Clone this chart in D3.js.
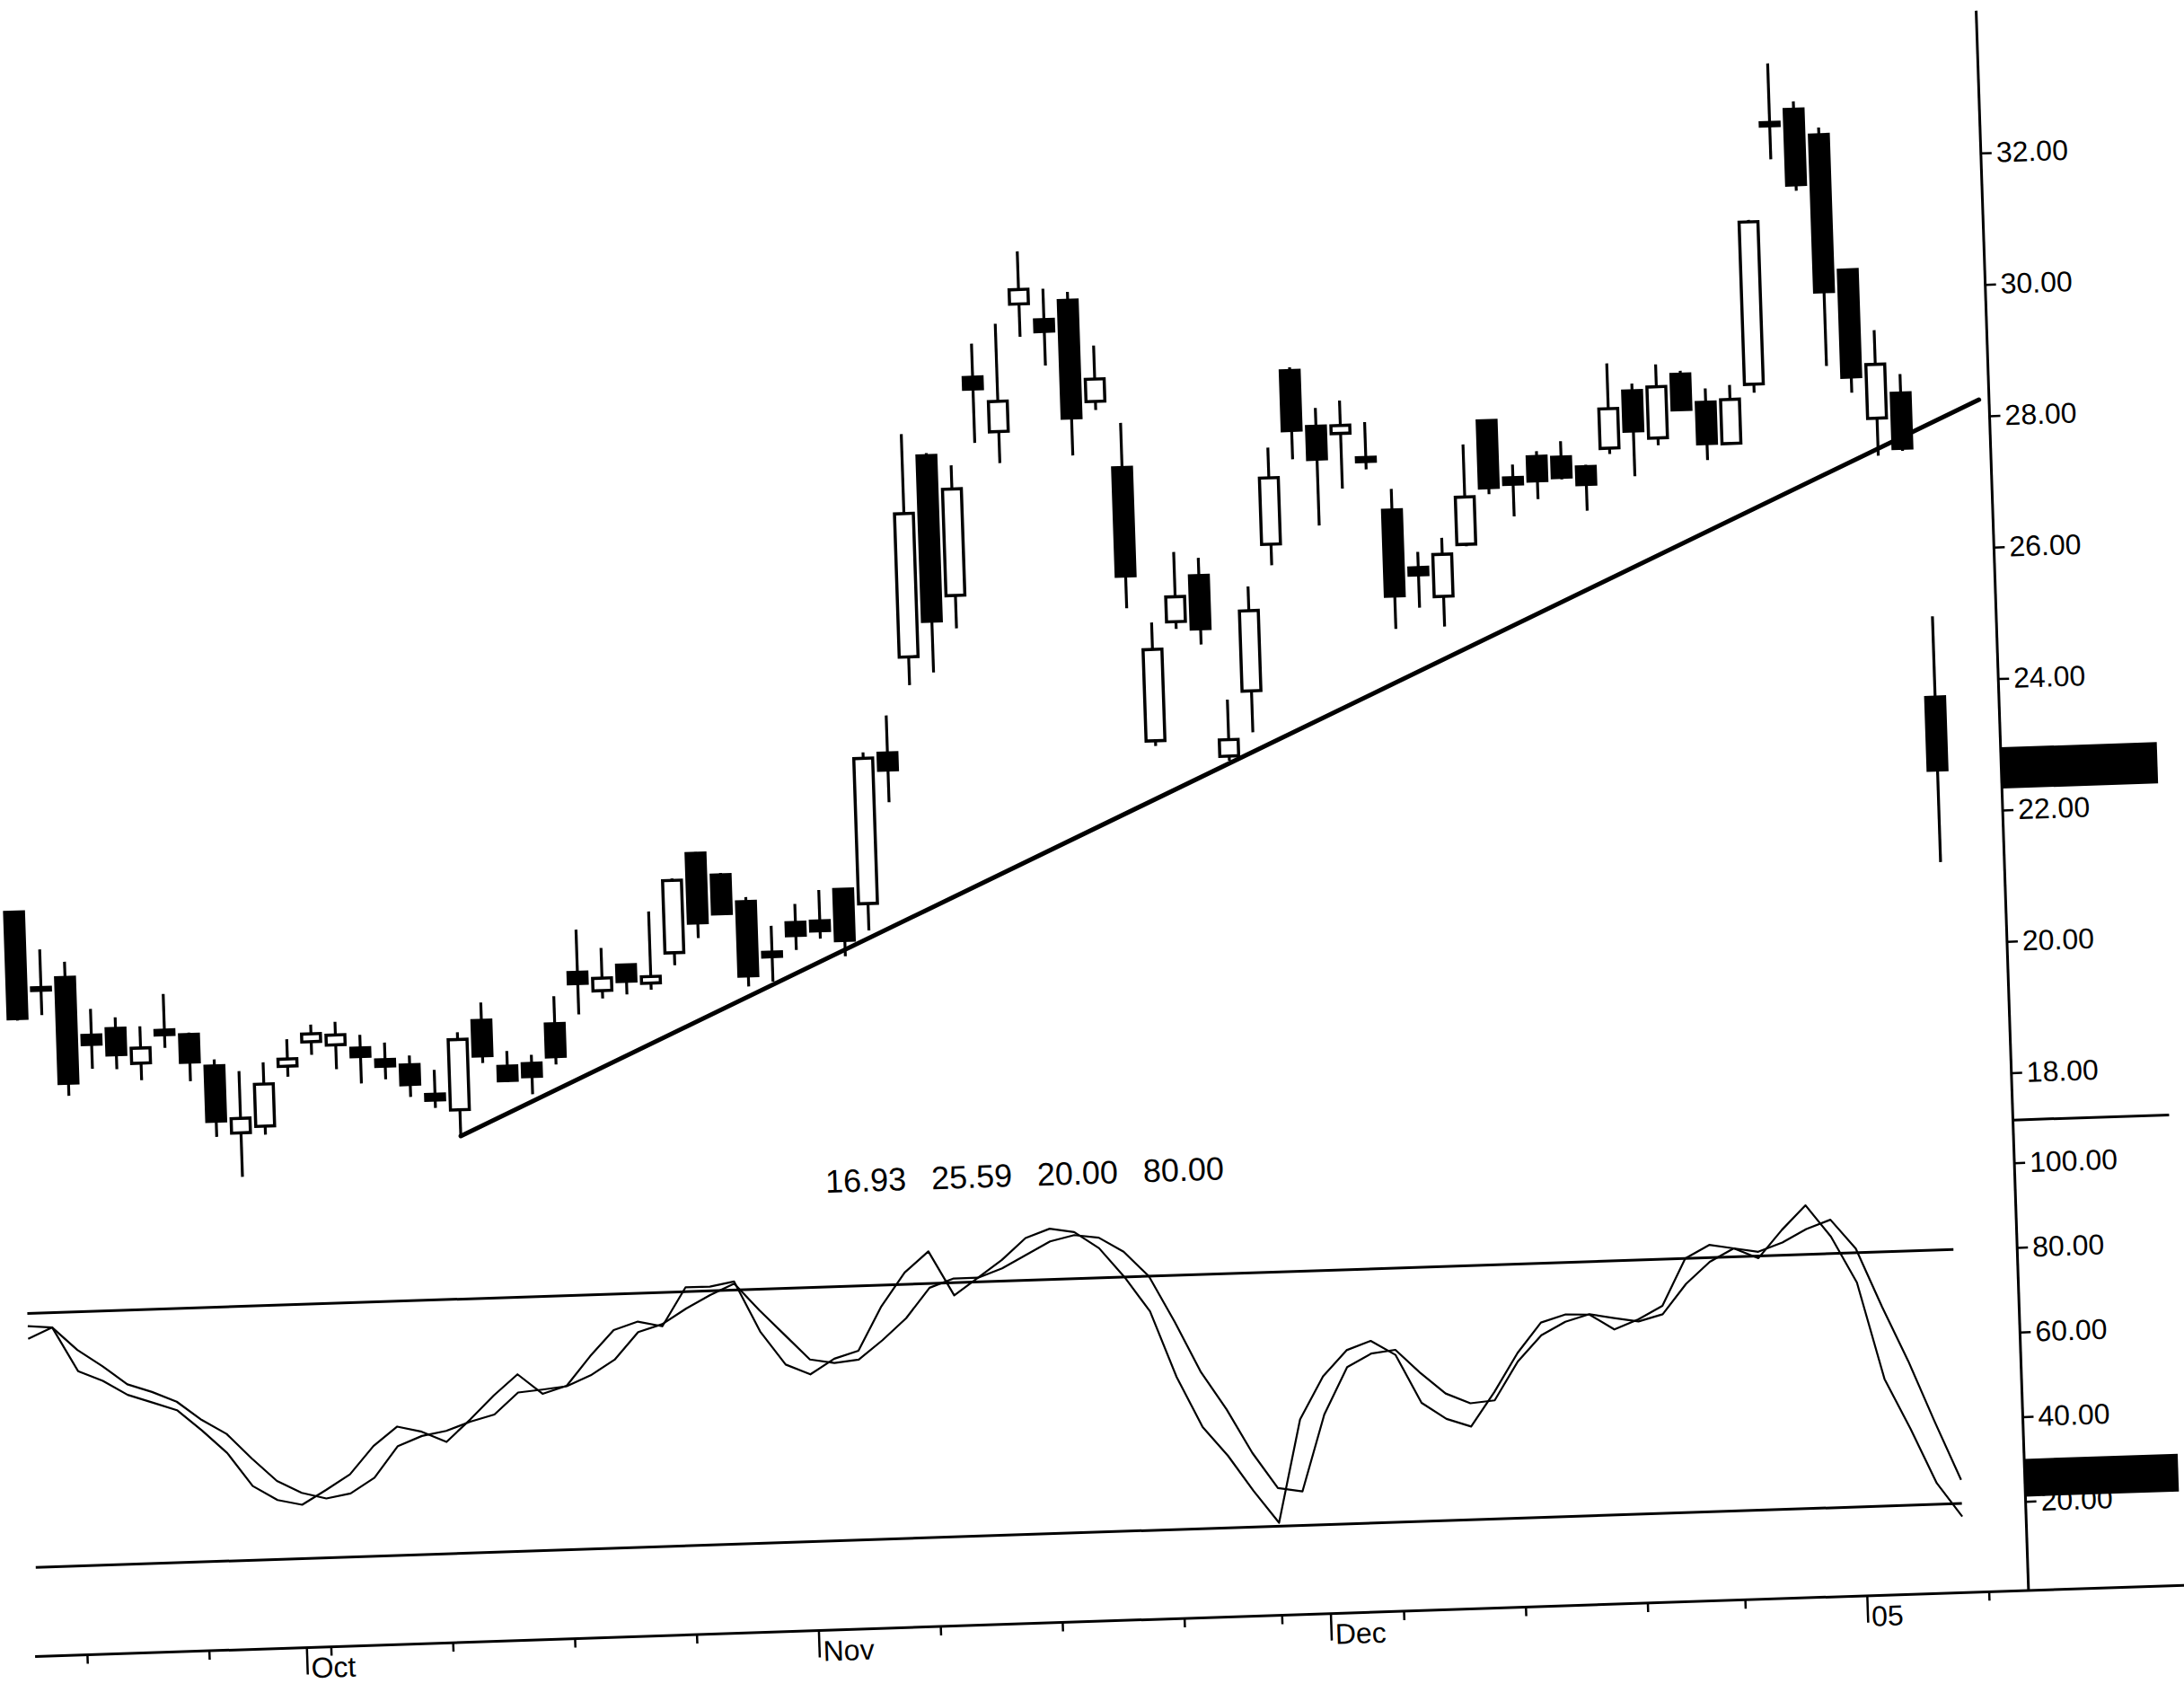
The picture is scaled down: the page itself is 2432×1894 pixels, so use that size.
<!DOCTYPE html>
<html>
<head>
<meta charset="utf-8">
<script src="https://cdn.jsdelivr.net/npm/d3@7"></script>
<style>
  html, body { margin: 0; padding: 0; background: #ffffff; }
  #chart svg { display: block; }
  text { font-family: 'Liberation Sans', Arial, sans-serif; fill: #000; }
</style>
</head>
<body>
<div id="chart"></div>
<script>
// trading sessions shown (Sep 16 2004 .. Jan 7 2005)
const dates = [
  '2004-09-16', '2004-09-17', '2004-09-20', '2004-09-21', '2004-09-22', '2004-09-23', '2004-09-24', '2004-09-27', '2004-09-28', '2004-09-29', '2004-09-30',
  '2004-10-01', '2004-10-04', '2004-10-05', '2004-10-06', '2004-10-07', '2004-10-08', '2004-10-11', '2004-10-12', '2004-10-13', '2004-10-14', '2004-10-15',
  '2004-10-18', '2004-10-19', '2004-10-20', '2004-10-21', '2004-10-22', '2004-10-25', '2004-10-26', '2004-10-27', '2004-10-28', '2004-10-29',
  '2004-11-01', '2004-11-02', '2004-11-03', '2004-11-04', '2004-11-05', '2004-11-08', '2004-11-09', '2004-11-10', '2004-11-11', '2004-11-12',
  '2004-11-15', '2004-11-16', '2004-11-17', '2004-11-18', '2004-11-19', '2004-11-22', '2004-11-23', '2004-11-24', '2004-11-26', '2004-11-29', '2004-11-30',
  '2004-12-01', '2004-12-02', '2004-12-03', '2004-12-06', '2004-12-07', '2004-12-08', '2004-12-09', '2004-12-10', '2004-12-13', '2004-12-14',
  '2004-12-15', '2004-12-16', '2004-12-17', '2004-12-20', '2004-12-21', '2004-12-22', '2004-12-23', '2004-12-27', '2004-12-28', '2004-12-29',
  '2004-12-30', '2004-12-31', '2005-01-03', '2005-01-04', '2005-01-05', '2005-01-06', '2005-01-07'
]
// the date axis runs one session past the last bar
const axisExtraDates = ['2005-01-10']

const open = [
  21.45, 20.29, 20.43, 19.54, 19.63, 19.09, 19.58, 19.50, 19.01, 17.98,
  18.07, 18.97, 19.33, 19.27, 19.21, 19.02, 18.93, 18.47, 18.22, 19.57,
  18.86, 18.89, 19.48, 20.25, 19.96, 20.34, 20.05, 20.50, 22.00, 21.66,
  21.24, 20.46, 20.90, 20.91, 21.38, 21.15, 23.43, 24.88, 27.93, 25.79,
  29.10, 28.26, 30.19, 29.94, 30.22, 28.67, 27.65, 23.48, 25.28, 25.97,
  23.21, 24.19, 26.41, 29.04, 28.18, 28.06, 27.68, 26.87, 25.98, 25.53,
  26.31, 28.18, 27.30, 27.61, 27.59, 27.43, 27.70, 28.56, 27.83, 28.79,
  28.35, 27.71, 28.60, 32.57, 32.76, 32.36, 30.29, 28.02, 28.39, 23.75
]
const high = [
  21.47, 20.87, 20.67, 19.94, 19.80, 19.65, 20.13, 19.53, 19.11, 18.92,
  19.04, 19.38, 19.59, 19.62, 19.41, 19.28, 19.07, 18.84, 19.40, 19.84,
  19.09, 19.02, 19.90, 20.90, 20.61, 20.34, 21.14, 21.63, 22.02, 21.69,
  21.31, 20.86, 21.18, 21.38, 21.39, 23.45, 24.00, 28.27, 27.97, 27.77,
  29.61, 29.90, 30.99, 30.41, 30.35, 29.52, 28.33, 25.28, 26.34, 26.24,
  24.07, 25.78, 27.88, 29.09, 28.46, 28.56, 28.22, 27.19, 26.22, 26.42,
  27.83, 28.19, 27.50, 27.69, 27.83, 27.46, 28.99, 28.67, 28.95, 28.84,
  28.56, 28.60, 31.10, 33.47, 32.88, 32.47, 30.29, 29.36, 28.68, 24.98
]
const low = [
  19.80, 19.87, 18.63, 19.03, 19.01, 18.83, 19.31, 18.79, 17.93, 17.31,
  17.94, 18.81, 19.13, 18.90, 18.67, 18.72, 18.44, 18.26, 17.82, 18.92,
  18.62, 18.42, 18.86, 19.61, 19.84, 19.89, 19.95, 20.31, 20.71, 21.05,
  19.95, 20.01, 20.48, 20.64, 20.36, 20.74, 22.68, 24.45, 24.63, 25.29,
  28.10, 27.78, 29.69, 29.24, 27.86, 28.54, 25.51, 23.40, 25.17, 24.92,
  23.14, 23.56, 26.09, 27.69, 26.67, 27.22, 27.50, 25.06, 25.37, 25.07,
  26.28, 27.06, 26.71, 26.96, 27.25, 26.76, 27.61, 27.26, 27.72, 28.24,
  27.47, 27.70, 28.47, 32.01, 31.52, 28.84, 28.42, 27.45, 27.51, 21.24
]
const close = [
  19.83, 20.25, 18.82, 19.40, 19.23, 19.32, 19.51, 19.08, 18.17, 18.20,
  18.71, 19.08, 19.45, 19.42, 19.08, 18.92, 18.63, 18.38, 19.29, 19.03,
  18.64, 18.69, 18.98, 20.08, 20.15, 20.09, 20.15, 21.60, 20.94, 21.07,
  20.11, 20.39, 20.70, 20.76, 20.60, 23.36, 23.17, 27.06, 25.41, 27.41,
  28.92, 28.72, 30.41, 29.76, 28.43, 29.01, 26.00, 24.87, 25.66, 25.16,
  23.46, 25.41, 27.42, 28.13, 27.68, 28.18, 27.62, 25.56, 25.87, 26.17,
  27.03, 27.16, 27.20, 27.24, 27.28, 27.16, 28.30, 27.95, 28.61, 28.25,
  27.72, 28.38, 31.07, 32.52, 31.61, 29.97, 28.66, 28.84, 27.55, 22.64
]

// slow stochastic %K and %D
const stochK = [
  74, 76.5, 66, 63.5, 60, 58, 56, 51, 45.5, 37.5,
  34, 32.7, 36, 39.5, 46, 50.4, 49, 46.4, 51.5, 57,
  61.8, 57, 58.7, 65.5, 71.5, 73.3, 72, 81, 81, 82,
  70, 62, 59.5, 63, 64.7, 75, 82.8, 87.6, 77, 81,
  85, 90, 92, 91, 87, 80, 71.7, 56, 44, 37,
  28.5, 20.8, 45, 55, 61, 63, 59.5, 48, 44, 42,
  50, 59, 66, 67.7, 67.5, 63.8, 66, 69, 80, 83,
  82, 79.5, 86, 91.6, 84, 73, 50, 38, 25, 16.93
]
const stochD = [
  77, 76.5, 71, 67, 62.5, 60.5, 58, 53.5, 50, 44,
  38.5, 35.5, 34, 35, 38.5, 45.8, 48, 49, 51, 52.5,
  57.5, 58, 58.6, 61, 64.5, 70.8, 72.5, 76, 79, 81.5,
  75, 69, 63, 62, 62.6, 67, 72, 79, 81, 81,
  83, 86, 89, 90.3, 89.5, 86, 80, 69, 57, 48,
  37.5, 29, 28, 46, 57, 60, 60.7, 55, 50, 47.5,
  48, 57, 63, 66, 67.6, 66.5, 65.5, 67, 74, 79,
  82, 81, 83, 86, 88, 81, 67, 54, 39.5, 25.59
]
const stochLevels = [20, 80]

// hand drawn support line: bar index and price at both ends
const trendIdx = [18, 81.2]
const trendPrice = [17.82, 28.25]

const priceTicks = [18, 20, 22, 24, 26, 28, 30, 32]
const stochTicks = [20, 40, 60, 80, 100]

let initChart = () => {
  let width = 2432
  let height = 1894
  let fmt = d3.format('.2f')
  let parse = d3.timeParse('%Y-%m-%d')

  let svg = d3
    .select('#chart')
    .append('svg')
    .attr('width', width)
    .attr('height', height)

  svg
    .append('rect')
    .attr('width', width)
    .attr('height', height)
    .attr('fill', '#ffffff')

  // the printed chart was scanned slightly skewed
  let rootG = svg
    .append('g')
    .attr('transform', 'rotate(-1.9, 1216, 947)')

  let axisX = 2231
  let axisRight = 2405
  let dividerY = 1281
  let baseY = 1805

  let x = d3.scaleLinear().domain([0, dates.length - 1]).range([14, 2160])
  let y = d3.scaleLinear().domain([18, 32]).range([1228.3, 203.6])
  let s = d3.scaleLinear().domain([0, 100]).range([1800.1, 1328.6])

  // trend line
  rootG
    .append('line')
    .attr('x1', x(trendIdx[0]))
    .attr('y1', y(trendPrice[0]))
    .attr('x2', x(trendIdx[1]))
    .attr('y2', y(trendPrice[1]))
    .attr('stroke', '#000')
    .attr('stroke-width', 5)
    .attr('stroke-linecap', 'round')

  // candles
  let bars = dates.map((d, i) => ({ i: i, o: open[i], h: high[i], l: low[i], c: close[i] }))
  let bodyW = 21
  let candle = rootG
    .append('g')
    .attr('class', 'candles')
    .selectAll('g')
    .data(bars)
    .enter()
    .append('g')

  candle
    .append('line')
    .attr('x1', d => x(d.i))
    .attr('x2', d => x(d.i))
    .attr('y1', d => y(d.h))
    .attr('y2', d => y(d.l))
    .attr('stroke', '#000')
    .attr('stroke-width', 3.2)

  candle
    .append('rect')
    .attr('x', d => x(d.i) - bodyW / 2)
    .attr('y', d => y(Math.max(d.o, d.c)))
    .attr('width', bodyW)
    .attr('height', d => Math.max(3, Math.abs(y(d.o) - y(d.c))))
    .attr('fill', d => (d.c > d.o ? '#ffffff' : '#000000'))
    .attr('stroke', '#000')
    .attr('stroke-width', 3.5)

  // stochastic levels and lines
  rootG
    .selectAll('line.level')
    .data(stochLevels)
    .enter()
    .append('line')
    .attr('class', 'level')
    .attr('x1', x(0))
    .attr('x2', x(dates.length - 1))
    .attr('y1', d => s(d))
    .attr('y2', d => s(d))
    .attr('stroke', '#000')
    .attr('stroke-width', 3)

  let stochLine = d3
    .line()
    .x((d, i) => x(i))
    .y(d => s(d))

  ;[stochK, stochD].forEach(series => {
    rootG
      .append('path')
      .attr('d', stochLine(series))
      .attr('fill', 'none')
      .attr('stroke', '#000')
      .attr('stroke-width', 2.2)
      .attr('stroke-linejoin', 'round')
  })

  // stochastic readout
  let readout = [stochK[stochK.length - 1], stochD[stochD.length - 1], stochLevels[0], stochLevels[1]]
  rootG
    .selectAll('text.readout')
    .data(readout)
    .enter()
    .append('text')
    .attr('class', 'readout')
    .attr('x', (d, i) => 907 + i * 118)
    .attr('y', 1318)
    .style('font-size', '36px')
    .text(d => fmt(d))

  // right hand axis
  rootG
    .append('line')
    .attr('x1', axisX)
    .attr('x2', axisX)
    .attr('y1', 45)
    .attr('y2', baseY)
    .attr('stroke', '#000')
    .attr('stroke-width', 3)

  rootG
    .append('line')
    .attr('x1', axisX)
    .attr('x2', axisRight)
    .attr('y1', dividerY)
    .attr('y2', dividerY)
    .attr('stroke', '#000')
    .attr('stroke-width', 3)

  let priceAxis = d3
    .axisRight(y)
    .tickValues(priceTicks)
    .tickFormat(fmt)
    .tickSize(12)
    .tickPadding(5)
  let pg = rootG
    .append('g')
    .attr('transform', 'translate(' + axisX + ',0)')
    .call(priceAxis)
  pg.select('.domain').remove()
  pg.selectAll('line').attr('stroke', '#000').attr('stroke-width', 2.5)
  pg.selectAll('text').style('font-size', '32px').attr('fill', '#000')

  let stochAxis = d3
    .axisRight(s)
    .tickValues(stochTicks)
    .tickFormat(fmt)
    .tickSize(12)
    .tickPadding(5)
  let sg = rootG
    .append('g')
    .attr('transform', 'translate(' + axisX + ',0)')
    .call(stochAxis)
  sg.select('.domain').remove()
  sg.selectAll('line').attr('stroke', '#000').attr('stroke-width', 2.5)
  sg.selectAll('text').style('font-size', '32px').attr('fill', '#000')

  // last value markers (printed black on black)
  let lastClose = close[close.length - 1]
  let lastD = stochD[stochD.length - 1]
  rootG
    .append('rect')
    .attr('x', axisX)
    .attr('y', y(lastClose) - 23)
    .attr('width', axisRight - axisX)
    .attr('height', 46)
    .attr('fill', '#000')
  rootG
    .append('text')
    .attr('x', axisX + 18)
    .attr('y', y(lastClose) + 11)
    .style('font-size', '32px')
    .attr('fill', '#000')
    .text(fmt(lastClose))
  rootG
    .append('rect')
    .attr('x', axisX)
    .attr('y', s(lastD) - 21)
    .attr('width', axisRight - axisX - 3)
    .attr('height', 42)
    .attr('fill', '#000')
  rootG
    .append('text')
    .attr('x', axisX + 18)
    .attr('y', s(lastD) + 11)
    .style('font-size', '32px')
    .attr('fill', '#000')
    .text(fmt(lastD))

  // date axis
  rootG
    .append('line')
    .attr('x1', 10)
    .attr('x2', axisRight)
    .attr('y1', baseY)
    .attr('y2', baseY)
    .attr('stroke', '#000')
    .attr('stroke-width', 3)

  let sessions = dates.concat(axisExtraDates).map(parse)
  let ticks = []
  sessions.forEach((d, i) => {
    let monthStart = i > 0 && d.getMonth() !== sessions[i - 1].getMonth()
    if (monthStart) {
      ticks.push({ i: i, major: true, label: d.getMonth() === 0 ? d3.timeFormat('%y')(d) : d3.timeFormat('%b')(d) })
    } else if (d.getDay() === 1) {
      ticks.push({ i: i, major: false })
    }
  })

  let tg = rootG
    .append('g')
    .selectAll('g')
    .data(ticks)
    .enter()
    .append('g')
    .attr('transform', d => 'translate(' + x(d.i) + ',' + baseY + ')')
  tg.append('line')
    .attr('y1', 0)
    .attr('y2', d => (d.major ? 30 : 10))
    .attr('stroke', '#000')
    .attr('stroke-width', 2.5)
  tg.filter(d => d.major)
    .append('text')
    .attr('x', 4)
    .attr('y', 34)
    .style('font-size', '32px')
    .text(d => d.label)
}

initChart()
</script>
</body>
</html>
